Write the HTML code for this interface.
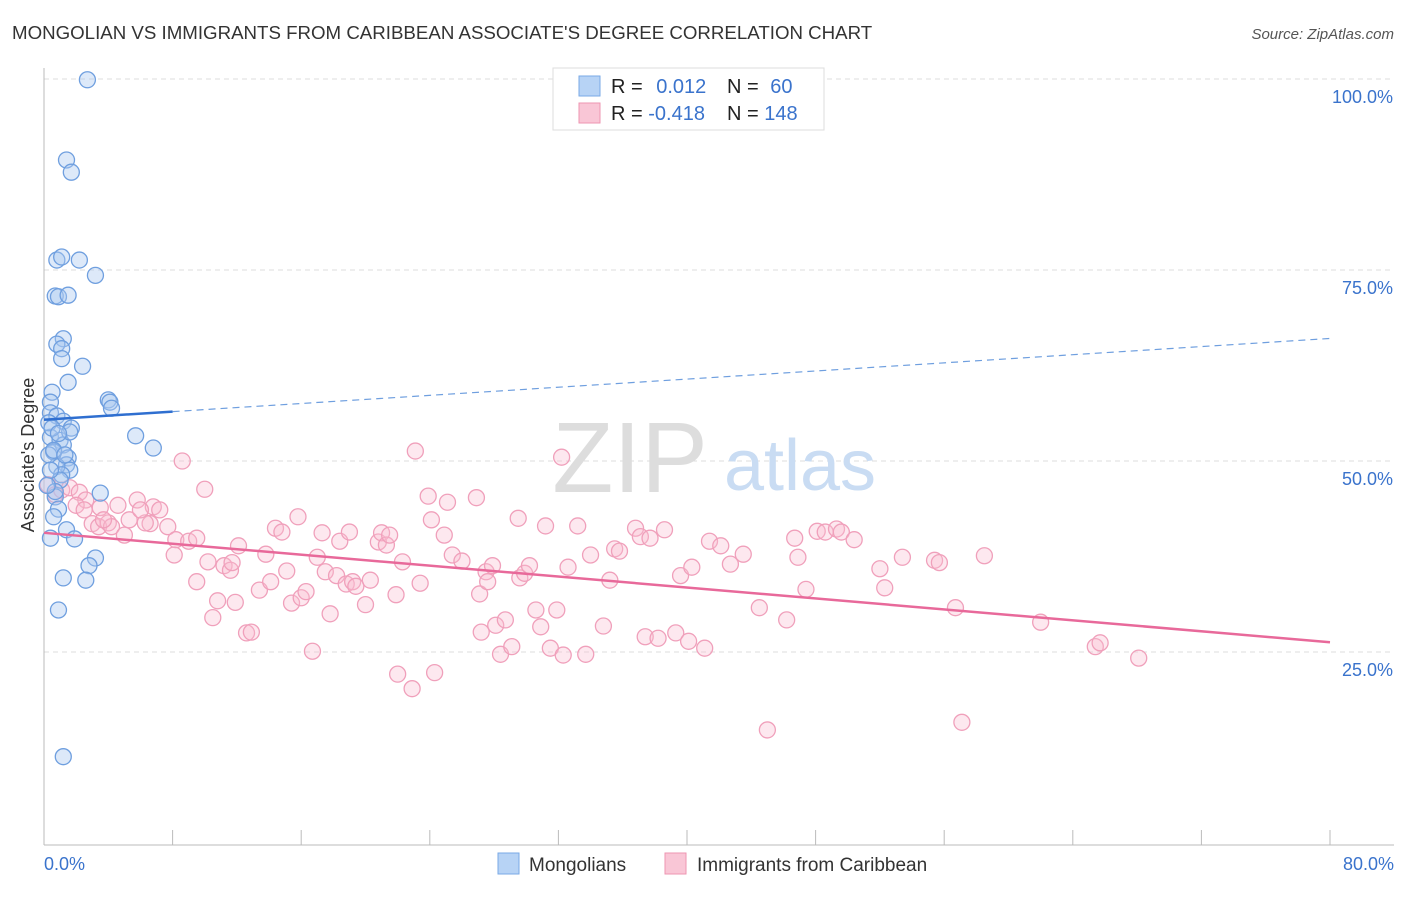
<!DOCTYPE html>
<html><head><meta charset="utf-8"><style>
body{margin:0;background:#fff;font-family:"Liberation Sans",sans-serif;}
svg text{font-family:"Liberation Sans",sans-serif;}
</style></head><body>
<svg id="chart" width="1406" height="892" xmlns="http://www.w3.org/2000/svg">
<text x="12" y="39" font-size="18.7" fill="#333">MONGOLIAN VS IMMIGRANTS FROM CARIBBEAN ASSOCIATE'S DEGREE CORRELATION CHART</text>
<text x="1394" y="39" font-size="15" fill="#555" text-anchor="end" font-style="italic">Source: ZipAtlas.com</text>
<g id="grid"></g>
<g id="axes"></g>
<text x="630" y="492" font-size="100" fill="#ddd" font-family="Liberation Serif" text-anchor="middle">ZIP</text>
<text x="800" y="490" font-size="72" fill="#c9dcf3" text-anchor="middle">atlas</text>
<g id="pink"></g>
<g id="blue"></g>
<g id="trends"></g>
<text transform="translate(34,455) rotate(-90)" font-size="18" fill="#333" text-anchor="middle">Associate's Degree</text>
<g>
<rect x="553" y="68" width="271" height="62" fill="#fff" stroke="#ddd"/>
<rect x="579" y="76" width="21" height="20" fill="#b7d3f5" stroke="#7aa9e6"/>
<rect x="579" y="103" width="21" height="20" fill="#f9c6d6" stroke="#ee95b1"/>
<text x="611" y="93" font-size="20" fill="#222">R = <tspan fill="#3a73cc" dx="8">0.012</tspan></text>
<text x="727" y="93" font-size="20" fill="#222">N = <tspan fill="#3a73cc" dx="6">60</tspan></text>
<text x="611" y="120" font-size="20" fill="#222">R = <tspan fill="#3a73cc">-0.418</tspan></text>
<text x="727" y="120" font-size="20" fill="#222">N = <tspan fill="#3a73cc">148</tspan></text>
</g>
<g>
<rect x="498" y="853" width="21" height="21" fill="#b7d3f5" stroke="#7aa9e6"/>
<text x="529" y="871" font-size="19" fill="#333">Mongolians</text>
<rect x="665" y="853" width="21" height="21" fill="#f9c6d6" stroke="#ee95b1"/>
<text x="697" y="871" font-size="19" fill="#333">Immigrants from Caribbean</text>
</g>
</svg>
<script>
const blueX=[2.7,1.4,1.7,0.8,1.1,2.2,3.2,0.7,0.9,1.5,1.2,0.8,1.1,1.1,2.4,1.5,0.5,4.0,4.1,4.2,0.4,0.4,0.8,1.2,1.7,5.7,0.4,1.0,1.2,6.8,0.6,1.5,1.4,1.6,0.8,1.1,3.5,0.7,0.9,0.6,1.4,1.9,0.4,3.2,2.8,1.2,2.6,0.9,1.2,0.3,0.5,0.3,0.6,1.0,0.7,1.6,0.2,1.3,0.4,0.9];
const blueY=[99.9,89.4,87.8,76.3,76.7,76.3,74.3,71.6,71.5,71.7,66.0,65.3,64.7,63.4,62.4,60.3,59.0,58.0,57.7,56.9,57.7,56.3,55.9,55.2,54.3,53.3,53.1,52.7,52.1,51.7,51.2,50.4,49.5,48.8,49.3,48.2,45.8,45.3,43.7,42.7,41.0,39.8,39.9,37.3,36.3,34.7,34.4,30.5,11.3,55.0,54.3,50.8,51.4,47.5,46.0,53.8,46.8,50.8,48.8,53.6];
const pinkX=[0.25,0.7,1.1,1.6,2.2,2.6,2.0,3.5,4.6,3.0,3.4,4.0,4.2,5.0,5.3,5.8,6.6,6.8,7.2,6.3,7.7,8.2,8.6,8.1,9.0,9.5,10.0,9.5,10.2,10.5,10.8,11.2,11.6,11.7,12.1,11.9,12.6,12.9,13.4,13.8,14.1,14.4,14.8,15.1,15.4,15.8,16.0,16.3,16.7,17.0,17.3,17.5,17.8,18.2,18.4,18.8,19.0,19.2,19.4,20.0,20.3,20.8,21.0,21.3,21.5,21.9,22.3,22.0,22.9,23.1,23.4,23.9,24.1,24.3,24.9,25.1,25.4,26.0,26.9,27.1,27.2,27.5,27.6,27.9,28.1,28.4,28.7,29.1,29.5,29.6,29.9,30.2,30.6,30.9,31.2,31.5,31.9,32.2,32.3,32.6,33.2,33.7,34.0,34.8,35.2,35.5,35.8,36.8,37.1,37.4,37.7,38.2,38.6,39.3,39.6,40.1,40.3,41.1,41.4,42.1,42.7,43.5,44.5,45.0,46.2,46.7,46.9,47.4,48.1,48.6,49.3,49.6,50.4,52.0,52.3,53.4,55.4,55.7,56.7,57.1,58.5,62.0,65.4,65.7,68.1,3.7,2.5,6.0];
const pinkY=[46.9,45.6,46.2,46.5,45.9,44.9,44.2,43.9,44.2,41.8,41.4,41.9,41.4,40.3,42.3,44.9,41.8,44.0,43.6,41.9,41.4,39.7,50.0,37.7,39.5,39.9,46.3,34.2,36.8,29.5,31.7,36.3,35.7,36.7,38.9,31.5,27.5,27.6,33.1,37.8,34.2,41.2,40.7,35.6,31.4,42.7,32.1,32.9,25.1,37.4,40.6,35.5,30.0,35.0,39.5,33.9,40.7,34.2,33.6,31.2,34.4,39.4,40.6,39.0,40.3,32.5,36.8,22.1,20.2,51.3,34.0,45.4,42.3,22.3,40.3,44.6,37.7,36.9,45.2,32.6,27.6,35.5,34.2,36.3,28.5,24.7,29.2,25.7,42.5,34.7,35.3,36.3,30.5,28.3,41.5,25.5,30.5,50.5,24.6,36.1,41.5,24.7,37.7,28.4,34.4,38.5,38.2,41.2,40.1,27.0,39.9,26.8,41.0,27.5,35.0,26.4,36.1,25.5,39.5,38.9,36.5,37.8,30.8,14.8,29.2,39.9,37.4,33.2,40.8,40.7,41.1,40.7,39.7,35.9,33.4,37.4,37.0,36.7,30.8,15.8,37.6,28.9,25.7,26.2,24.2,42.3,43.6,43.6];
const yTicks=[25,50,75,100];
const yTickLabels=["25.0%","50.0%","75.0%","100.0%"];
const xTickLabels=["0.0%","80.0%"];
const blueTrend=[55.4,0.133]; // intercept, slope
const pinkTrend=[40.6,-0.179];
const blueSolidEnd=8;

const NS="http://www.w3.org/2000/svg";
const X=v=>44+v*16.075, Y=v=>843-v*7.64;
function mk(tag,attrs,parent){const e=document.createElementNS(NS,tag);for(const k in attrs)e.setAttribute(k,attrs[k]);parent.appendChild(e);return e;}
const grid=document.getElementById('grid'),axes=document.getElementById('axes');
yTicks.forEach((t,i)=>{
  const l=mk('line',{x1:44,x2:1394,y1:Y(t),y2:Y(t),stroke:'#ddd','stroke-dasharray':'5,4'},grid);
  
  
  const tx=mk('text',{x:1393,y:Y(t)+24,'font-size':18,fill:'#3a73cc','text-anchor':'end'},axes);
  tx.textContent=yTickLabels[i];
  
  
});
const ax=mk('line',{x1:44,x2:1394,y1:845,y2:845,stroke:'#bbb'},axes);


const ay=mk('line',{x1:44,x2:44,y1:68,y2:845,stroke:'#bbb'},axes);


for(let i=1;i<=10;i++){
  const t=mk('line',{x1:X(i*8),x2:X(i*8),y1:830,y2:845,stroke:'#bbb'},axes);
  
  
}
[[0,'start',44],[80,'end',1394]].forEach((d,i)=>{
  const t=mk('text',{x:d[2],y:870,'font-size':18,fill:'#3a73cc','text-anchor':d[1]},axes);
  t.textContent=xTickLabels[i];
  
  
});
const pg=document.getElementById('pink');
pinkX.forEach((x,i)=>{
  const c=mk('circle',{cx:X(x),cy:Y(pinkY[i]),r:8,fill:'rgba(249,190,210,0.35)',stroke:'#f0a0bb','stroke-width':1.3},pg);
  
  
});
const bg=document.getElementById('blue');
blueX.forEach((x,i)=>{
  const c=mk('circle',{cx:X(x),cy:Y(blueY[i]),r:8,fill:'rgba(170,200,240,0.4)',stroke:'#6f9fdf','stroke-width':1.3},bg);
  
  
});
const tg=document.getElementById('trends');
const f=(t,x)=>t[0]+t[1]*x;
const b1=mk('line',{x1:X(0),y1:Y(f(blueTrend,0)),x2:X(blueSolidEnd),y2:Y(f(blueTrend,blueSolidEnd)),stroke:'#2f6fd0','stroke-width':2.5},tg);


const b2=mk('line',{x1:X(blueSolidEnd),y1:Y(f(blueTrend,blueSolidEnd)),x2:X(80),y2:Y(f(blueTrend,80)),stroke:'#6f9fdf','stroke-width':1.2,'stroke-dasharray':'7,5'},tg);


const p1=mk('line',{x1:X(0),y1:Y(f(pinkTrend,0)),x2:X(80),y2:Y(f(pinkTrend,80)),stroke:'#e8699a','stroke-width':2.5},tg);


</script>
</body></html>
